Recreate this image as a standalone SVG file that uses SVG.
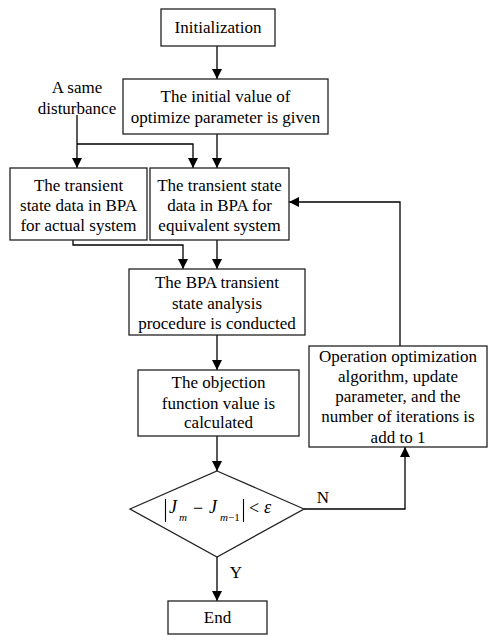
<svg xmlns="http://www.w3.org/2000/svg" width="488" height="635" viewBox="0 0 488 635">
<style>
.box{fill:#fff;stroke:#222;stroke-width:1.3}
.t{font-family:"Liberation Serif","Times New Roman",serif;font-size:17px;fill:#000;text-anchor:middle}
.c{fill:none;stroke:#000;stroke-width:1.3}
.m{font-family:"Liberation Serif","Times New Roman",serif;fill:#000}
</style>
<defs>
<marker id="ah" markerUnits="userSpaceOnUse" markerWidth="10" markerHeight="12" refX="10" refY="5" orient="auto">
<path d="M0,0 L10,5 L0,10 Z" fill="#000"/>
</marker>
</defs>
<rect width="488" height="635" fill="#fff"/>
<g id="connectors">
<path class="c" d="M217,46 V79" marker-end="url(#ah)"/>
<path class="c" d="M77,115 V168" marker-end="url(#ah)"/>
<path class="c" d="M77,144 H193 V168" marker-end="url(#ah)"/>
<path class="c" d="M217,134 V168" marker-end="url(#ah)"/>
<path class="c" d="M73,240 V245 H183 V269" marker-end="url(#ah)"/>
<path class="c" d="M217,240 V269" marker-end="url(#ah)"/>
<path class="c" d="M217,335 V370" marker-end="url(#ah)"/>
<path class="c" d="M217,436 V471" marker-end="url(#ah)"/>
<path class="c" d="M217,557 V601" marker-end="url(#ah)"/>
<path class="c" d="M304,509 H405 V447" marker-end="url(#ah)"/>
<path class="c" d="M400,346 V202 H289" marker-end="url(#ah)"/>
</g>
<g id="init">
<rect class="box" x="161" y="9" width="114" height="37"/>
<text class="t" x="218" y="33">Initialization</text>
</g>
<g id="initial-value">
<rect class="box" x="123" y="79" width="205" height="55"/>
<text class="t" x="225.5" y="101.5">The initial value of</text>
<text class="t" x="225.5" y="122.5">optimize parameter is given</text>
</g>
<g id="disturbance">
<text class="t" x="77" y="92.5">A same</text>
<text class="t" x="77" y="113.5">disturbance</text>
</g>
<g id="actual">
<rect class="box" x="10" y="168" width="137" height="72"/>
<text class="t" x="78.5" y="190.5">The transient</text>
<text class="t" x="78.5" y="210.5">state data in BPA</text>
<text class="t" x="78.5" y="230.5">for actual system</text>
</g>
<g id="equivalent">
<rect class="box" x="150" y="168" width="139" height="72"/>
<text class="t" x="219.5" y="190.5">The transient state</text>
<text class="t" x="219.5" y="210.5">data in BPA for</text>
<text class="t" x="219.5" y="230.5">equivalent system</text>
</g>
<g id="bpa">
<rect class="box" x="129" y="269" width="176" height="66"/>
<text class="t" x="217" y="288">The BPA transient</text>
<text class="t" x="217" y="308.5">state analysis</text>
<text class="t" x="217" y="329">procedure is conducted</text>
</g>
<g id="objection">
<rect class="box" x="138" y="370" width="161" height="66"/>
<text class="t" x="218.5" y="388">The objection</text>
<text class="t" x="218.5" y="408.5">function value is</text>
<text class="t" x="218.5" y="428">calculated</text>
</g>
<g id="update">
<rect class="box" x="309" y="346" width="178" height="101"/>
<text class="t" x="398" y="362">Operation optimization</text>
<text class="t" x="398" y="382">algorithm, update</text>
<text class="t" x="398" y="402">parameter, and the</text>
<text class="t" x="398" y="422">number of iterations is</text>
<text class="t" x="398" y="442.5">add to 1</text>
</g>
<g id="decision">
<path class="box" d="M217,471 L304,509 L217,557 L130,509 Z"/>
<line x1="165.5" y1="499" x2="165.5" y2="522" stroke="#000" stroke-width="1.1"/>
<line x1="243.5" y1="499" x2="243.5" y2="522" stroke="#000" stroke-width="1.1"/>
<text class="m" x="169" y="513" font-size="18" font-style="italic">J</text>
<text class="m" x="179" y="521" font-size="11" font-style="italic">m</text>
<text class="m" x="193" y="514" font-size="18">−</text>
<text class="m" x="209" y="513" font-size="18" font-style="italic">J</text>
<text class="m" x="220" y="521" font-size="11"><tspan font-style="italic">m</tspan>−1</text>
<text class="m" x="249" y="514" font-size="18">&lt;</text>
<text class="m" x="264" y="513" font-size="18" font-style="italic">ε</text>
</g>
<g id="labels">
<text class="t" x="323" y="503" font-size="18">N</text>
<text class="t" x="236" y="578" font-size="18">Y</text>
</g>
<g id="end">
<rect class="box" x="168" y="601" width="99" height="33"/>
<text class="t" x="217.5" y="622.5">End</text>
</g>
</svg>
